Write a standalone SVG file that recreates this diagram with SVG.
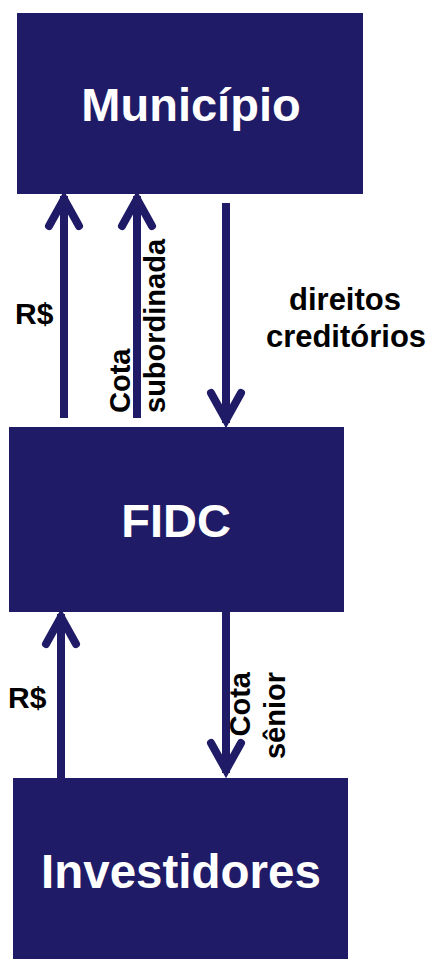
<svg xmlns="http://www.w3.org/2000/svg" width="432" height="959" viewBox="0 0 432 959">
<style>
.box{fill:#1F1B67}
.title{font-family:"Liberation Sans",Arial,sans-serif;font-weight:bold;font-size:47px;fill:#FFFFFF;text-anchor:middle}
.lbl{font-family:"Liberation Sans",Arial,sans-serif;font-weight:bold;font-size:29px;fill:#000000}
.conn{stroke:#1F1B67;stroke-width:8;fill:none}
</style>
<defs>
<marker id="arr" markerUnits="userSpaceOnUse" viewBox="-40 -22 44 44" markerWidth="44" markerHeight="44" refX="0" refY="0" orient="auto" overflow="visible">
<path d="M-30,-15 L-3,0 L-30,15" fill="none" stroke="#1F1B67" stroke-width="8" stroke-linecap="round" stroke-linejoin="miter"/>
</marker>
</defs>
<rect width="432" height="959" fill="#FFFFFF"/>
<g id="municipio">
<rect class="box" x="17" y="13" width="346" height="181"/>
<text class="title" x="191" y="121">Município</text>
</g>
<g id="fidc">
<rect class="box" x="9" y="427" width="335" height="185"/>
<text class="title" x="176" y="537">FIDC</text>
</g>
<g id="investidores">
<rect class="box" x="13" y="778" width="335" height="181"/>
<text class="title" x="181" y="888" style="font-size:47.5px">Investidores</text>
</g>
<g id="connectors">
<line class="conn" x1="64" y1="418" x2="64" y2="196" marker-end="url(#arr)"/>
<line class="conn" x1="137" y1="418" x2="137" y2="196" marker-end="url(#arr)"/>
<line class="conn" x1="226" y1="203" x2="226" y2="423" marker-end="url(#arr)"/>
<line class="conn" x1="61" y1="778" x2="61" y2="614" marker-end="url(#arr)"/>
<line class="conn" x1="226" y1="612" x2="226" y2="773" marker-end="url(#arr)"/>
</g>
<g id="labels">
<text class="lbl" x="15" y="324" style="font-size:30px">R$</text>
<text class="lbl" x="345" y="310" text-anchor="middle" style="font-size:31px">direitos</text>
<text class="lbl" x="346" y="347" text-anchor="middle" style="font-size:31px">creditórios</text>
<text class="lbl" transform="translate(130,413) rotate(-90)">Cota</text>
<text class="lbl" transform="translate(165,413) rotate(-90)">subordinada</text>
<text class="lbl" x="8" y="708" style="font-size:30px">R$</text>
<text class="lbl" transform="translate(250,672) rotate(-90)" text-anchor="end">Cota</text>
<text class="lbl" transform="translate(285,672) rotate(-90)" text-anchor="end">sênior</text>
</g>
</svg>
